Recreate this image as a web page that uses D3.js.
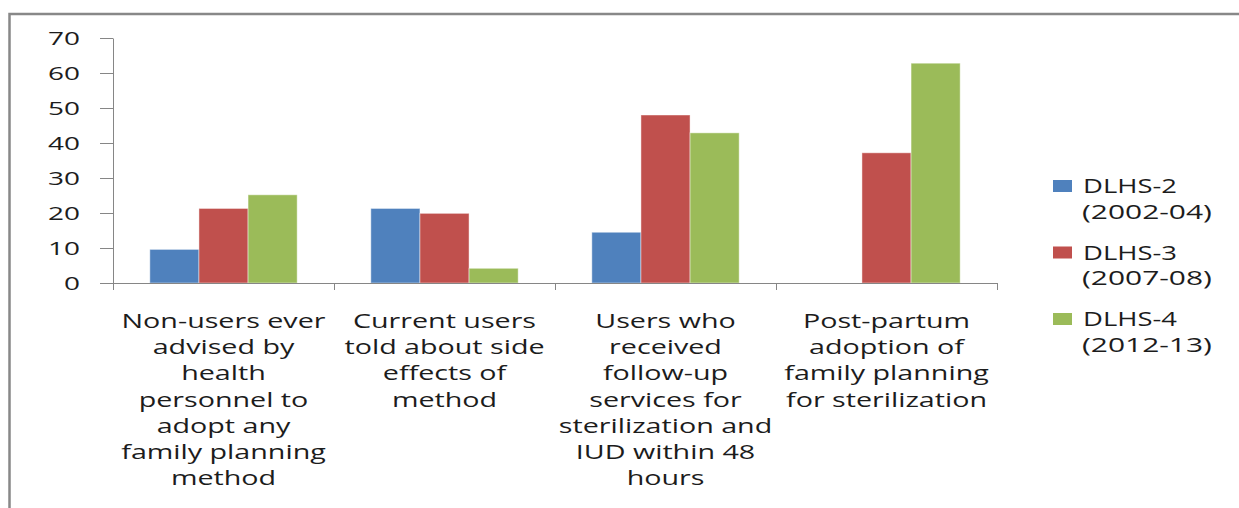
<!DOCTYPE html>
<html>
<head>
<meta charset="utf-8">
<script src="https://cdn.jsdelivr.net/npm/d3@7"></script>
<style>
  html, body { margin: 0; padding: 0; background: #fff; overflow: hidden; }
  text { font-family: "Open Sans", Lato, sans-serif; fill: #1c1c1c; }
</style>
</head>
<body>
<div id="chart"></div>
<script>
// --- data ---
const categories = [
  ["Non-users ever", "advised by", "health", "personnel to", "adopt any", "family planning", "method"],
  ["Current users", "told about side", "effects of", "method"],
  ["Users who", "received", "follow-up", "services for", "sterilization and", "IUD within 48", "hours"],
  ["Post-partum", "adoption of", "family planning", "for sterilization"]
];
const seriesKeys   = ["DLHS-2", "DLHS-3", "DLHS-4"];
const seriesYears  = ["(2002-04)", "(2007-08)", "(2012-13)"];
const seriesColors = ["#4F81BD", "#C0504D", "#9BBB59"];
const dlhs2 = [9.6, 21.3, 14.5, null];
const dlhs3 = [21.3, 19.9, 48.0, 37.2];
const dlhs4 = [25.2, 4.2, 42.9, 62.8];
const yTicks = [0, 10, 20, 30, 40, 50, 60, 70];

const values = [dlhs2, dlhs3, dlhs4];

// --- sizing ---
const W = 1239, H = 508;
const plot = { left: 113, right: 997, top: 38, bottom: 283 };

const svg = d3.select("#chart").append("svg")
  .attr("width", W).attr("height", H);

// outer frame (only top and left edges are visible in the picture)
svg.append("rect")
  .attr("x", 9.5).attr("y", 14)
  .attr("width", W + 20).attr("height", H + 20)
  .attr("fill", "none")
  .attr("stroke", "#888")
  .attr("stroke-width", 2.5);

// --- scales ---
const catIdx = d3.range(categories.length);
const x = d3.scaleBand().domain(catIdx).range([plot.left, plot.right]).padding(0);
const xb = d3.scaleLinear().domain([0, categories.length]).range([plot.left, plot.right]);
const bw = x.bandwidth();
const barW = bw / 4.5;           // Excel gap width 150%
const x1 = d3.scaleBand().domain(d3.range(seriesKeys.length))
  .range([barW * 0.75, bw - barW * 0.75]).padding(0);
const y = d3.scaleLinear().domain([0, 70]).range([plot.bottom, plot.top]);

// helper: text stretched horizontally to match the picture's wide glyphs
function measure(str, size) {
  const t = svg.append("text").style("font-size", size + "px").text(str);
  const w = t.node().getComputedTextLength();
  t.remove();
  return w;
}
const catSize = 20, tickSize = 18, legSize = 20;
const catSX  = 204 / measure("Non-users ever", catSize);
const tickSX = 32 / measure("70", tickSize);
const legSX  = 94 / measure("DLHS-2", legSize);
const yrSX   = 130 / measure("(2002-04)", legSize);

function stretchedText(parent, px, py, str, size, sx, anchor) {
  parent.append("g")
    .attr("transform", `translate(${px},${py}) scale(${sx},1)`)
    .append("text")
    .attr("text-anchor", anchor)
    .style("font-size", size + "px")
    .text(str);
}

// --- bars ---
const groups = svg.append("g").selectAll("g")
  .data(catIdx).enter().append("g")
  .attr("transform", i => `translate(${x(i)},0)`);

groups.selectAll("rect")
  .data(i => values.map((v, s) => ({ s, v: v[i] })).filter(d => d.v != null))
  .enter().append("rect")
  .attr("x", d => x1(d.s))
  .attr("width", x1.bandwidth())
  .attr("y", d => y(d.v))
  .attr("height", d => y(0) - y(d.v))
  .attr("fill", d => seriesColors[d.s])
  .attr("stroke", "rgba(255,255,255,0.45)")
  .attr("stroke-width", 1);

// --- axes ---
const yAxis = svg.append("g")
  .attr("transform", `translate(${plot.left},0)`)
  .call(d3.axisLeft(y).tickValues(yTicks).tickSize(13).tickSizeOuter(0).tickFormat(""));
yAxis.selectAll("path, line").attr("stroke", "#868686");

const xAxis = svg.append("g")
  .attr("transform", `translate(0,${plot.bottom})`)
  .call(d3.axisBottom(xb).tickValues(d3.range(categories.length + 1)).tickSize(7).tickSizeOuter(0).tickFormat(""));
xAxis.selectAll("path, line").attr("stroke", "#868686");

// y tick labels
const yLab = svg.append("g");
yTicks.forEach(t => stretchedText(yLab, 80, y(t) + 6.5, String(t), tickSize, tickSX, "end"));

// category labels
const xLab = svg.append("g");
categories.forEach((lines, i) => {
  lines.forEach((ln, k) => {
    stretchedText(xLab, x(i) + bw / 2, 328 + k * 26.2, ln, catSize, catSX, "middle");
  });
});

// --- legend ---
const leg = svg.append("g");
seriesKeys.forEach((k, s) => {
  const top = 180 + s * 66.5;
  leg.append("rect")
    .attr("x", 1053).attr("y", top)
    .attr("width", 19).attr("height", 12)
    .attr("fill", seriesColors[s]);
  stretchedText(leg, 1083, top + 13, k, legSize, legSX, "start");
  stretchedText(leg, 1082, top + 38.5, seriesYears[s], legSize, yrSX, "start");
});
</script>
</body>
</html>
